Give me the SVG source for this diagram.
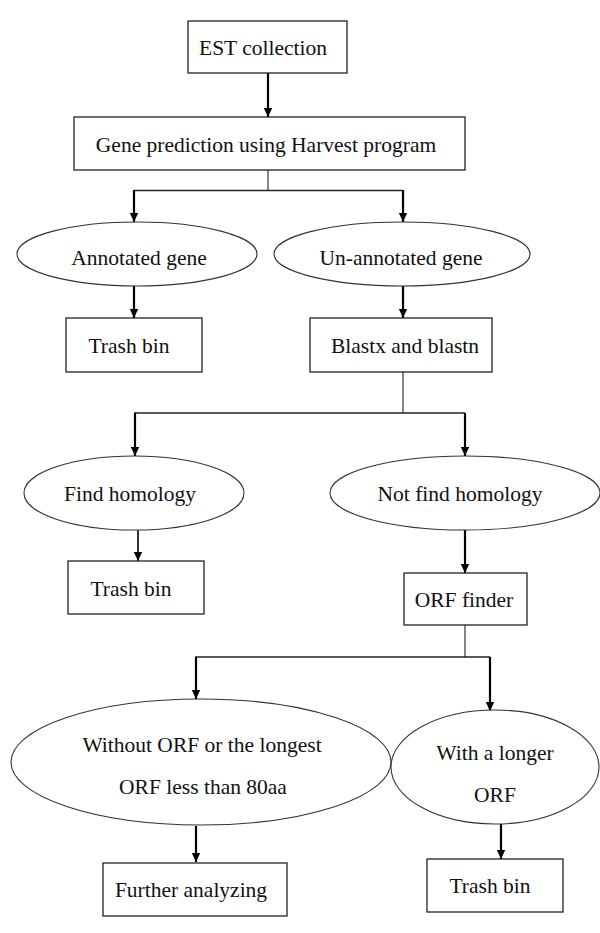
<svg xmlns="http://www.w3.org/2000/svg" width="600" height="933" viewBox="0 0 600 933">
<defs>
<marker id="ah" markerUnits="userSpaceOnUse" markerWidth="10" markerHeight="10" viewBox="0 0 10 10" refX="9" refY="5" orient="auto">
<path d="M0,0.8 L9,5 L0,9.2 Z" fill="#000"/>
</marker>
<style>
.box{fill:#fff;stroke:#222;stroke-width:1.3}
.ell{fill:#fff;stroke:#333;stroke-width:1.1}
.t{font-family:"Liberation Serif","Times New Roman",serif;font-size:21.5px;fill:#111;text-anchor:middle}
.arr{fill:none;stroke:#000;stroke-width:2.2;marker-end:url(#ah)}
.thin{fill:none;stroke:#222;stroke-width:1.1}
.h{fill:none;stroke:#222;stroke-width:1.6}
</style>
</defs>
<rect width="600" height="933" fill="#fff"/>
<g id="connectors">
<path class="arr" d="M268,73 V117"/>
<path class="thin" d="M268,170 V190"/>
<path class="h" d="M134,190.5 H403"/>
<path class="arr" d="M134,190 V222"/>
<path class="arr" d="M403,190 V222"/>
<path class="arr" d="M134,286 V318"/>
<path class="arr" d="M403,286 V318"/>
<path class="thin" d="M403,372 V413"/>
<path class="h" d="M134,413 H465"/>
<path class="arr" d="M135,413 V456"/>
<path class="arr" d="M465,413 V456"/>
<path class="arr" d="M138,530 V561" style="stroke-width:1.6"/>
<path class="arr" d="M465,530 V573"/>
<path class="thin" d="M465,625 V657"/>
<path class="h" d="M195,657 H490"/>
<path class="arr" d="M196,657 V699"/>
<path class="arr" d="M490,657 V711"/>
<path class="arr" d="M196,826 V862"/>
<path class="arr" d="M501,824 V859"/>
</g>
<g id="est">
<rect class="box" x="188" y="21" width="159" height="52"/>
<text class="t" x="263" y="55">EST collection</text>
</g>
<g id="gene-prediction">
<rect class="box" x="74" y="117" width="391" height="53"/>
<text class="t" x="266" y="152">Gene prediction using Harvest program</text>
</g>
<g id="annotated">
<ellipse class="ell" cx="137" cy="254" rx="120" ry="32"/>
<text class="t" x="139" y="265">Annotated gene</text>
</g>
<g id="unannotated">
<ellipse class="ell" cx="402" cy="254" rx="128" ry="32"/>
<text class="t" x="401" y="265">Un-annotated gene</text>
</g>
<g id="trash1">
<rect class="box" x="66" y="318" width="136" height="54"/>
<text class="t" x="129" y="353">Trash bin</text>
</g>
<g id="blast">
<rect class="box" x="310" y="318" width="182" height="54"/>
<text class="t" x="405" y="353">Blastx and blastn</text>
</g>
<g id="find-homology">
<ellipse class="ell" cx="134" cy="493" rx="110" ry="37"/>
<text class="t" x="130" y="501">Find homology</text>
</g>
<g id="not-find-homology">
<ellipse class="ell" cx="465" cy="493" rx="135" ry="37"/>
<text class="t" x="460" y="501">Not find homology</text>
</g>
<g id="trash2">
<rect class="box" x="68" y="561" width="136" height="53"/>
<text class="t" x="131" y="596">Trash bin</text>
</g>
<g id="orf-finder">
<rect class="box" x="404" y="573" width="123" height="52"/>
<text class="t" x="464" y="607">ORF finder</text>
</g>
<g id="without-orf">
<ellipse class="ell" cx="201" cy="762" rx="190" ry="63"/>
<text class="t" x="202" y="752">Without ORF or the longest</text>
<text class="t" x="203" y="794">ORF less than 80aa</text>
</g>
<g id="longer-orf">
<ellipse class="ell" cx="495" cy="767" rx="104" ry="57"/>
<text class="t" x="495" y="760">With a longer</text>
<text class="t" x="495" y="802">ORF</text>
</g>
<g id="further">
<rect class="box" x="103" y="863" width="184" height="53"/>
<text class="t" x="191" y="897">Further analyzing</text>
</g>
<g id="trash3">
<rect class="box" x="427" y="859" width="136" height="53"/>
<text class="t" x="490" y="893">Trash bin</text>
</g>
</svg>
